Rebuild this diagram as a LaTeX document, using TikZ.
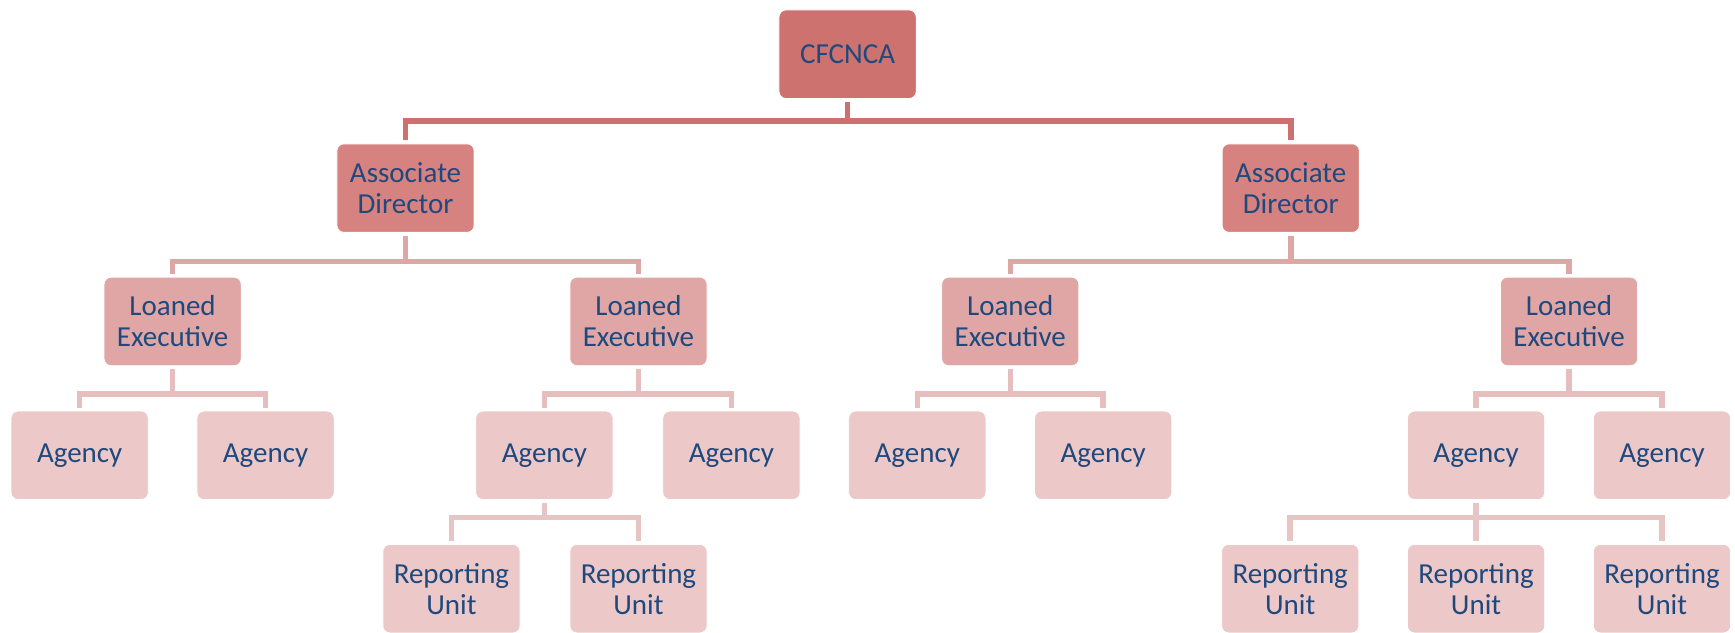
\documentclass[tikz,border=0pt]{standalone}
\usepackage{fontspec}
\setmainfont{Carlito}
\definecolor{txt}{HTML}{1F497D}
\definecolor{c1}{HTML}{CD726E}
\definecolor{c2}{HTML}{D58280}
\definecolor{c3}{HTML}{E0A6A5}
\definecolor{c4}{HTML}{ECC8C8}
\definecolor{l1}{HTML}{CC716D}
\definecolor{l2}{HTML}{DDA7A6}
\definecolor{l3}{HTML}{E6BEBE}
\definecolor{l4}{HTML}{E8C5C5}
\tikzset{
  orgbox/.style={rounded corners=7pt, draw=white, line width=0.8pt, minimum width=137.2pt, minimum height=88.5pt,
    align=center, text=txt, inner sep=2pt, font=\fontsize{29}{31}\selectfont},
  lv1/.style={orgbox, fill=c1},
  lv2/.style={orgbox, fill=c2},
  lv3/.style={orgbox, fill=c3},
  lv4/.style={orgbox, fill=c4},
  conn/.style={line width=5.5pt, shorten <=3pt, shorten >=3pt},
}
\begin{document}
\begin{tikzpicture}[x=1.10651pt, y=-1.10651pt]
\useasboundingbox (0,0) rectangle (1568,572);
% nodes
\node[lv1] (cf) at (766,49) {CFCNCA};
\node[lv2] (ad1) at (366.5,170) {Associate\\Director};
\node[lv2] (ad2) at (1166.5,170) {Associate\\Director};
\node[lv3] (le1) at (156,290.5) {Loaned\\Executive};
\node[lv3] (le2) at (577,290.5) {Loaned\\Executive};
\node[lv3] (le3) at (913,290.5) {Loaned\\Executive};
\node[lv3] (le4) at (1418,290.5) {Loaned\\Executive};
\node[lv4] (ag1) at (72,411.5) {Agency};
\node[lv4] (ag2) at (240,411.5) {Agency};
\node[lv4] (ag3) at (492,411.5) {Agency};
\node[lv4] (ag4) at (661,411.5) {Agency};
\node[lv4] (ag5) at (829,411.5) {Agency};
\node[lv4] (ag6) at (997,411.5) {Agency};
\node[lv4] (ag7) at (1334,411.5) {Agency};
\node[lv4] (ag8) at (1502,411.5) {Agency};
\node[lv4] (ru1) at (408,532) {Reporting\\Unit};
\node[lv4] (ru2) at (577,532) {Reporting\\Unit};
\node[lv4] (ru3) at (1166,532) {Reporting\\Unit};
\node[lv4] (ru4) at (1334,532) {Reporting\\Unit};
\node[lv4] (ru5) at (1502,532) {Reporting\\Unit};
% connectors
\foreach \c in {ad1,ad2}
  \draw[conn, l1] (cf.south) -- ++(0,20) -| (\c.north);
\foreach \p/\c in {ad1/le1, ad1/le2, ad2/le3, ad2/le4}
  \draw[conn, l2] (\p.south) -- ++(0,26) -| (\c.north);
\foreach \p/\c in {le1/ag1, le1/ag2, le2/ag3, le2/ag4, le3/ag5, le3/ag6, le4/ag7, le4/ag8}
  \draw[conn, l3] (\p.south) -- ++(0,25) -| (\c.north);
\foreach \p/\c in {ag3/ru1, ag3/ru2, ag7/ru3, ag7/ru4, ag7/ru5}
  \draw[conn, l4] (\p.south) -- ++(0,16) -| (\c.north);
\end{tikzpicture}
\end{document}
